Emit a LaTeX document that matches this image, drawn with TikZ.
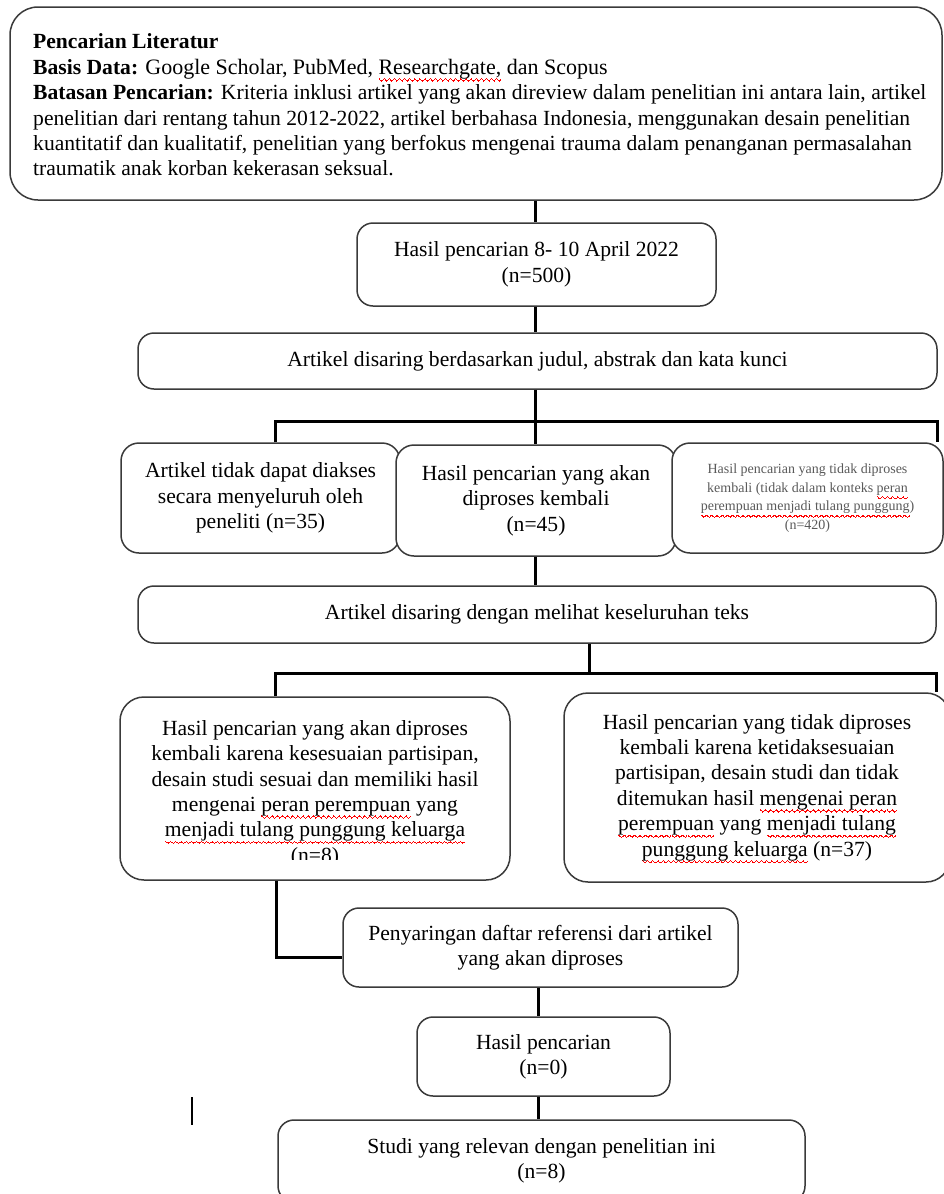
\documentclass[tikz,border=0pt]{standalone}
\usepackage{fontspec}
\setmainfont{Liberation Serif}
\newsavebox\sqbox
\newcommand\wvr[1]{\vrule width 0.85pt height \dimexpr-#1pt+0.6pt\relax depth \dimexpr#1pt+0.6pt\relax}
\newcommand\wvpiece{\wvr{4.6}\wvr{5.3}\wvr{6.0}\wvr{6.7}\wvr{6.0}\wvr{5.3}}
\newcommand\sq[1]{\sbox\sqbox{#1}\rlap{\smash{\color{red}\hbox to \wd\sqbox{\xleaders\hbox{\wvpiece}\hfil}}}\usebox\sqbox}
\definecolor{bordergrey}{HTML}{3A3A3A}
\definecolor{softgrey}{HTML}{5A5A5A}
\tikzset{
  box/.style={draw=bordergrey, fill=white, line width=1.5pt, rounded corners=16pt,
    inner sep=0pt, align=center, font=\fontsize{21.6}{25.4}\selectfont},
  conn/.style={line width=3pt, line join=miter},
  txt/.style={inner sep=0pt, font=\fontsize{21.6}{25.4}\selectfont}
}
\begin{document}
\begin{tikzpicture}[x=1pt,y=-1pt]
\useasboundingbox (0,0) rectangle (944,1194);
\clip (0,0) rectangle (944,1194);

% top box
\node[box, rounded corners=28pt, minimum width=932pt, minimum height=193pt] (lit) at (476,103.5) {};
\node[txt, anchor=west, align=left] (littxt) at (33,105) {%
\textbf{Pencarian Literatur}\\
\textbf{Basis Data:} {\fontsize{22}{25.4}\selectfont Google Scholar, PubMed, \sq{Researchgate,} dan Scopus}\\
\textbf{Batasan Pencarian:} Kriteria inklusi artikel yang akan direview dalam penelitian ini antara lain, artikel\\
penelitian dari rentang tahun 2012-2022, artikel berbahasa Indonesia, menggunakan desain penelitian\\
kuantitatif dan kualitatif, penelitian yang berfokus mengenai trauma dalam penanganan permasalahan\\
traumatik anak korban kekerasan seksual.};

\node[box, minimum width=359pt, minimum height=83pt] (hasil) at (536.5,264.5) {Hasil pencarian 8- 10 April 2022\\(n=500)};
\node[box, minimum width=799pt, minimum height=56pt] (berd) at (537.5,361) {Artikel disaring berdasarkan judul, abstrak dan kata kunci};

\node[box, rounded corners=18pt, minimum width=279pt, minimum height=110pt] (a1) at (260.5,498) {Artikel tidak dapat diakses\\secara menyeluruh oleh\\peneliti (n=35)};
\node[box, rounded corners=18pt, minimum width=280pt, minimum height=111pt] (a2) at (536,500.5) {Hasil pencarian yang akan\\diproses kembali\\(n=45)};
\node[box, rounded corners=18pt, minimum width=271pt, minimum height=110pt, font=\fontsize{14}{18.5}\selectfont, text=softgrey] (a3) at (807.5,498) {Hasil pencarian yang tidak diproses\\kembali (tidak dalam konteks \sq{peran}\\\sq{perempuan menjadi tulang punggung})\\(n=420)};

\node[box, minimum width=798pt, minimum height=57pt] (deng) at (537,614.5) {Artikel disaring dengan melihat keseluruhan teks};

\node[box, rounded corners=24pt, minimum width=390pt, minimum height=183pt] (bl) at (315,788.5) {};
\begin{scope}
\clip (0,0) rectangle (944,859);
\node[txt, align=center] (bltxt) at (315,793.5) {Hasil pencarian yang akan diproses\\kembali karena kesesuaian partisipan,\\desain studi sesuai dan memiliki hasil\\mengenai \sq{peran perempuan} yang\\\sq{menjadi tulang punggung keluarga}\\(n=8)};
\end{scope}

\node[box, rounded corners=24pt, minimum width=386pt, minimum height=189pt] (br) at (757,787.5) {Hasil pencarian yang tidak diproses\\kembali karena ketidaksesuaian\\partisipan, desain studi dan tidak\\ditemukan hasil \sq{mengenai peran}\\\sq{perempuan} yang \sq{menjadi tulang}\\\sq{punggung keluarga} (n=37)};

\node[box, minimum width=395pt, minimum height=79pt] (peny) at (540.5,947.5) {Penyaringan daftar referensi dari artikel\\yang akan diproses};
\node[box, minimum width=253pt, minimum height=79pt] (nol) at (543.5,1056.5) {Hasil pencarian\\(n=0)};
\node[box, minimum width=527pt, minimum height=82pt] (stud) at (541.5,1161) {Studi yang relevan dengan penelitian ini\\(n=8)};

% connectors
\coordinate (cx) at (535,0);
\coordinate (cx2) at (538,0);
\coordinate (cm) at (589,0);
\coordinate (jl) at (275,421);
\coordinate (jr) at (937,421);
\coordinate (kl) at (275,673);
\coordinate (kr) at (936,673);
\coordinate (pj) at (276,957);

\draw[conn] (lit.south -| cx) -- (hasil.north -| cx);
\draw[conn] (hasil.south -| cx) -- (berd.north -| cx);
\draw[conn] (berd.south -| cx) -- (a2.north -| cx);
\draw[conn] (a1.north -| jl) -- (jl) -- (jr) -- (a3.north -| jr);
\draw[conn] (a2.south -| cx) -- (deng.north -| cx);
\draw[conn] (deng.south -| cm) -- (cm |- kl);
\draw[conn] (bl.north -| kl) -- (kl) -- (kr) -- (br.north -| kr);
\draw[conn] (bl.south -| pj) -- (pj) -- (peny.west |- pj);
\draw[conn] (peny.south -| cx2) -- (nol.north -| cx2);
\draw[conn] (nol.south -| cx2) -- (stud.north -| cx2);

% stray bar
\draw[line width=1.8pt] (192,1097) -- (192,1125);
\end{tikzpicture}
\end{document}
